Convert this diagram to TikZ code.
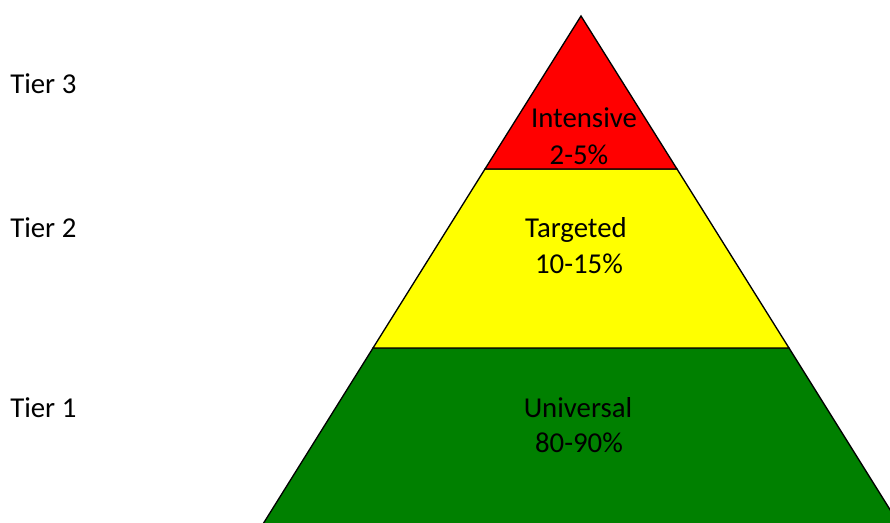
\documentclass[tikz,border=0pt]{standalone}
\usepackage{fontspec}
\setmainfont{Carlito}
\usepackage{tikz}

\begin{document}
\begin{tikzpicture}[x=0.75pt,y=-0.75pt,
    tier/.style={anchor=base west,inner sep=0pt},
    lbl/.style={anchor=base,inner sep=0pt},
    band/.style={draw=black,line width=1pt,line join=miter}]
  \useasboundingbox (0,0) rectangle (890,522);
  \fontsize{21.6}{26}\selectfont

  % corners of the pyramid (base runs off the page)
  \coordinate (apex) at (581,16);
  \coordinate (l2) at (485,169);
  \coordinate (r2) at (677,169);
  \coordinate (l1) at (373,348);
  \coordinate (r1) at (789,348);
  \coordinate (l0) at (253,540);
  \coordinate (r0) at (909,540);

  \begin{scope}
    \clip (0,0) rectangle (890,522);
    \filldraw[band,fill={rgb,255:red,0;green,128;blue,0}] (l1) -- (r1) -- (r0) -- (l0) -- cycle;
    \filldraw[band,fill={rgb,255:red,255;green,255;blue,0}] (l2) -- (r2) -- (r1) -- (l1) -- cycle;
    \filldraw[band,fill={rgb,255:red,255;green,0;blue,0}] (apex) -- (r2) -- (l2) -- cycle;
  \end{scope}

  \node[lbl] (intensive) at (584,127) {Intensive};
  \node[lbl] (intpct) at (579,164) {2-5\%};
  \node[lbl] (targeted) at (576,237) {Targeted};
  \node[lbl] (tarpct) at (579,273) {10-15\%};
  \node[lbl] (universal) at (578,417) {Universal};
  \node[lbl] (unipct) at (579,452) {80-90\%};

  \node[tier] (tier3) at (10,93) {Tier 3};
  \node[tier] (tier2) at (10,237) {Tier 2};
  \node[tier] (tier1) at (10,417) {Tier 1};
\end{tikzpicture}
\end{document}
